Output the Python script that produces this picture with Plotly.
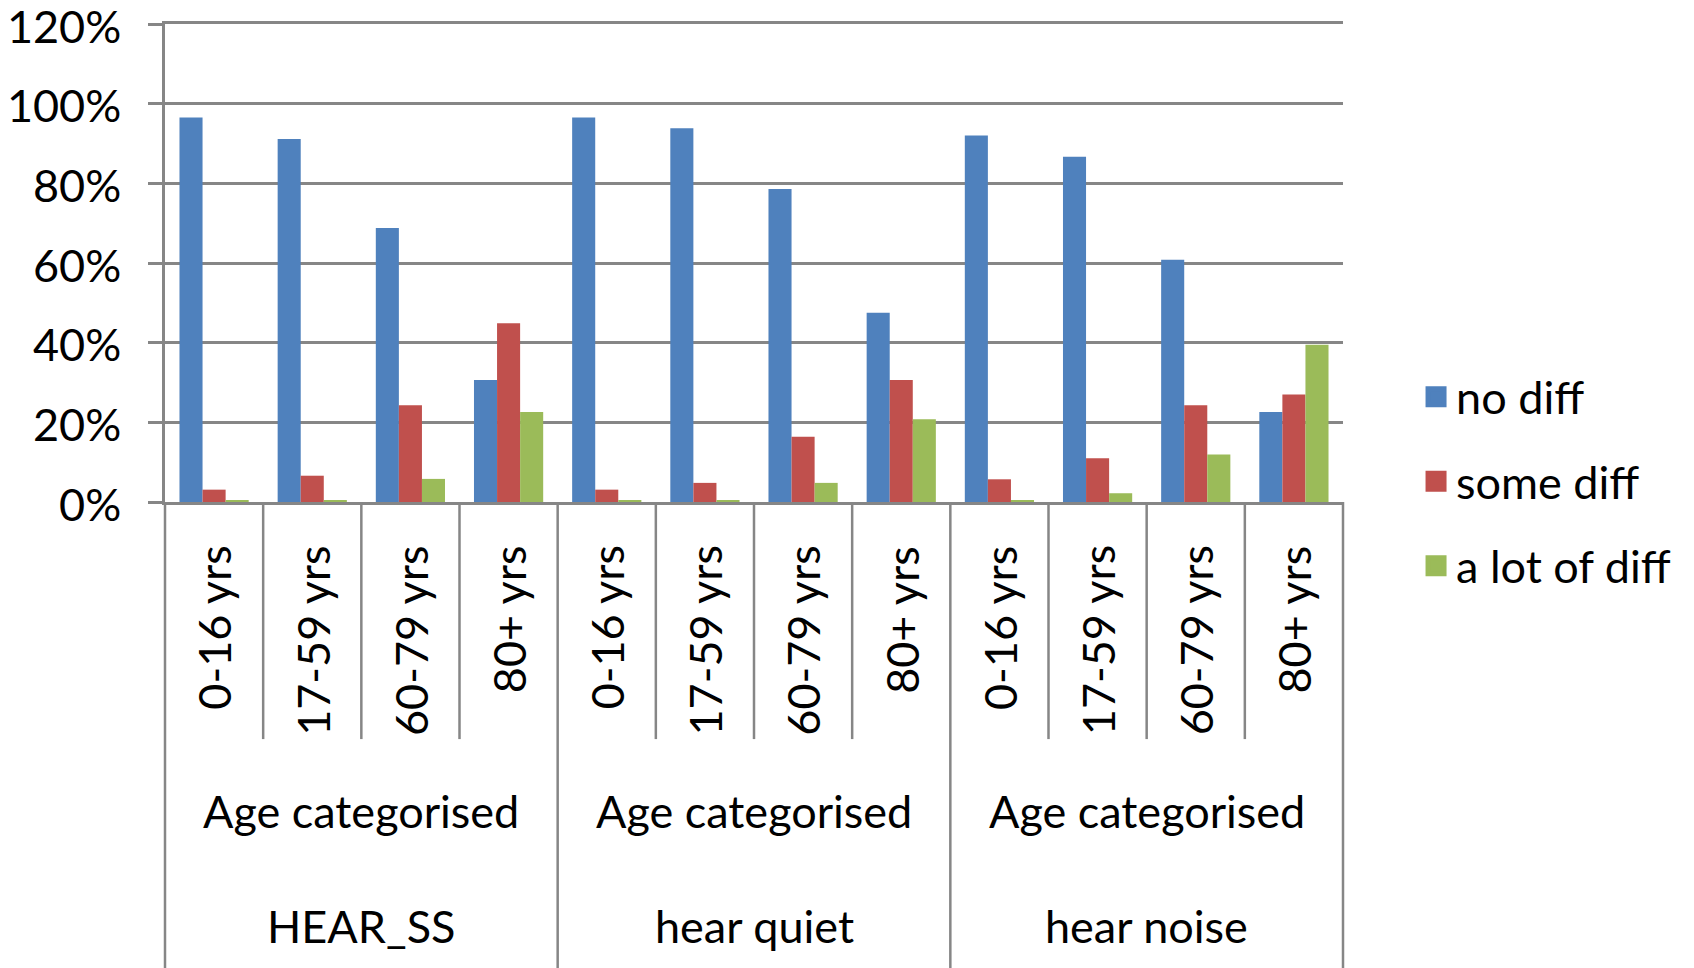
import plotly.graph_objects as go

groups = ["HEAR_SS", "hear quiet", "hear noise"]
group_sub = "Age categorised"
ages = ["0-16 yrs", "17-59 yrs", "60-79 yrs", "80+ yrs"]
series_names = ["no diff", "some diff", "a lot of diff"]
no_diff = [96.5, 91.1, 68.8, 30.6, 96.5, 93.8, 78.6, 47.5, 92.0, 86.7, 60.8, 22.6]
some_diff = [3.1, 6.6, 24.3, 44.9, 3.1, 4.8, 16.4, 30.6, 5.7, 11.0, 24.3, 27.0]
a_lot_diff = [0.3, 0.3, 5.8, 22.6, 0.3, 0.3, 4.8, 20.8, 0.3, 2.2, 11.9, 39.5]
colors = ["#4F81BD", "#C0504D", "#9BBB59"]
y_ticks = [0, 20, 40, 60, 80, 100, 120]

FONT = "Lato"
FS = 45
GRID = "#868686"

n = len(groups) * len(ages)
xs = list(range(n))

fig = go.Figure()
for name, vals, col in zip(series_names, [no_diff, some_diff, a_lot_diff], colors):
    fig.add_trace(go.Bar(x=xs, y=[v / 100 for v in vals], name=name,
                         marker=dict(color=col, line=dict(width=0)),
                         showlegend=False))
# legend entries with large square swatches
for name, col in zip(series_names, colors):
    fig.add_trace(go.Scatter(x=[None], y=[None], mode="markers", name=name,
                             legendgroup=name,
                             marker=dict(symbol="square", size=16, color=col,
                                         line=dict(color=col, width=5))))

shapes = []
ann = []
for k in range(n + 1):
    is_group = (k % len(ages) == 0)
    shapes.append(dict(type="line", xref="paper", yref="paper",
                       x0=k / n, x1=k / n, y0=0, y1=(-1.05 if is_group else -0.496),
                       line=dict(color=GRID, width=2.5)))
for i in range(n):
    ann.append(dict(x=i, y=-0.087, xref="x", yref="paper", text=ages[i % len(ages)],
                    textangle=-90, showarrow=False, xanchor="center", yanchor="top",
                    font=dict(family=FONT, size=FS, color="black")))
for g, gname in enumerate(groups):
    cx = (g + 0.5) * len(ages) / n
    ann.append(dict(x=cx, y=-0.647, xref="paper", yref="paper", text=group_sub,
                    showarrow=False, xanchor="center", yanchor="middle",
                    font=dict(family=FONT, size=FS, color="black")))
    ann.append(dict(x=cx, y=-0.887, xref="paper", yref="paper", text=gname,
                    showarrow=False, xanchor="center", yanchor="middle",
                    font=dict(family=FONT, size=FS, color="black")))

fig.update_layout(
    width=1694, height=968,
    margin=dict(l=157, r=359, t=16, b=474, autoexpand=False),
    paper_bgcolor="white", plot_bgcolor="white",
    barmode="group", bargap=0.295, bargroupgap=0,
    font=dict(family=FONT, size=FS, color="black"),
    shapes=shapes, annotations=ann,
    legend=dict(x=1.062, y=0.043, xanchor="left", yanchor="middle",
                font=dict(family=FONT, size=FS, color="black"),
                tracegroupgap=23, bgcolor="rgba(0,0,0,0)"),
    xaxis=dict(range=[-0.5, n - 0.5], showticklabels=False, showgrid=False,
               zeroline=False, showline=True, mirror=True, linecolor=GRID,
               linewidth=2.5, ticks="", automargin=False),
    yaxis=dict(range=[0, 1.2], tickvals=[t / 100 for t in y_ticks], tickformat=".0%",
               showgrid=True, gridcolor=GRID, gridwidth=2.5,
               zeroline=False, showline=True, linecolor=GRID, linewidth=2.5,
               ticks="outside", ticklen=14, tickcolor=GRID, tickwidth=2.5,
               ticklabelstandoff=18, ticklabelshift=3, ticklabeloverflow="allow",
               automargin=False,
               tickfont=dict(family=FONT, size=FS, color="black")),
)

fig.write_html("out.html")
